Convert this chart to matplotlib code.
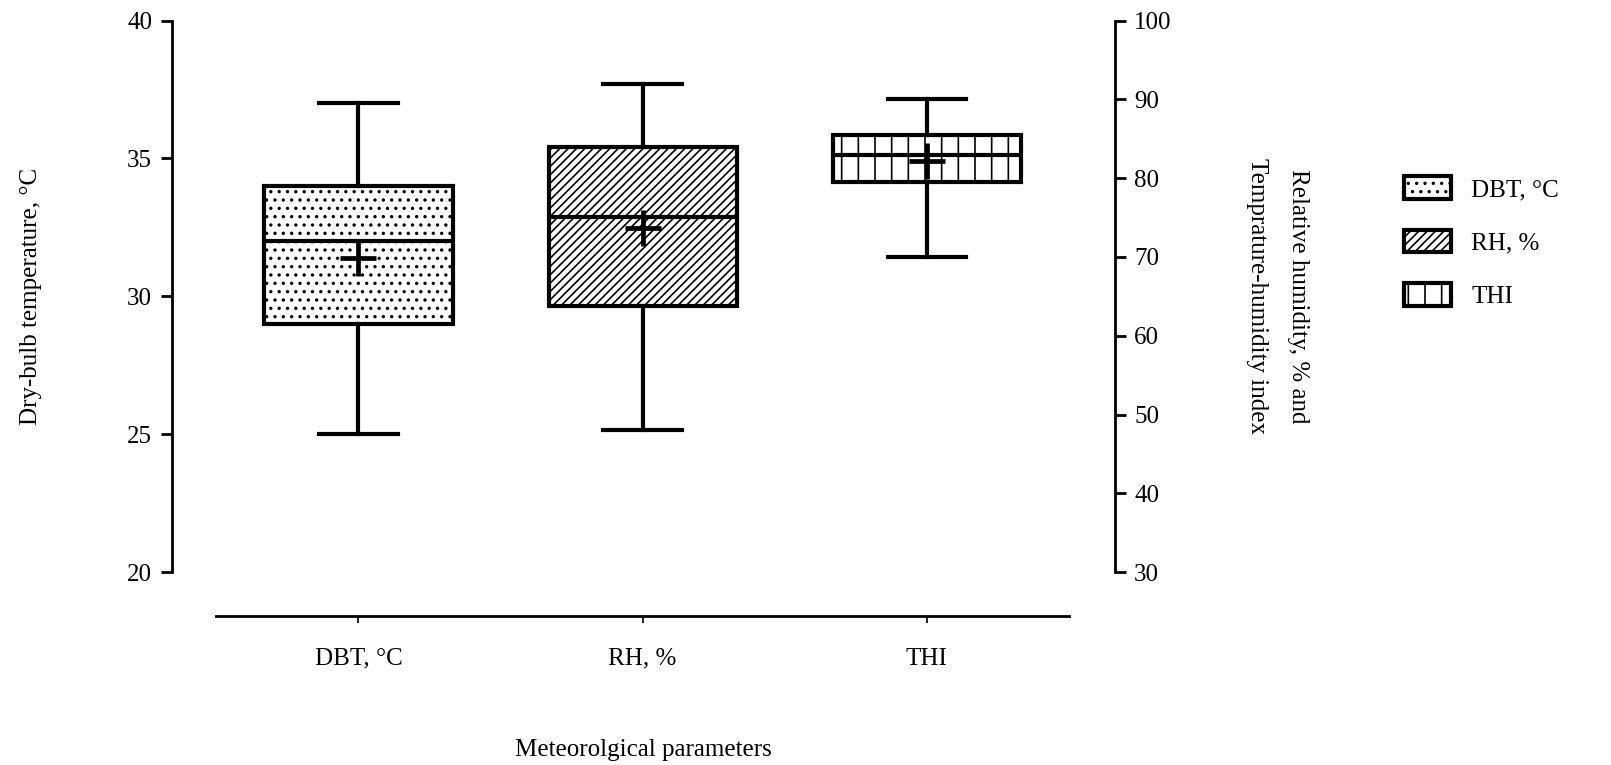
import matplotlib.pyplot as plt
from matplotlib.patches import Patch

plt.rcParams['font.family'] = ['Liberation Serif', 'DejaVu Serif']
plt.rcParams['hatch.linewidth'] = 1.2

# === Données ===
categories = ["DBT, °C", "RH, %", "THI"]
whislo = [25.0, 48.0, 70.0]
q1 = [29.0, 63.8, 79.5]
med = [32.0, 75.1, 82.9]
q3 = [34.0, 84.0, 85.5]
whishi = [37.0, 92.0, 90.0]
means = [31.4, 73.7, 82.2]
hatches = ['..', '////', '|']

stats = [dict(label=categories[i], whislo=whislo[i], q1=q1[i], med=med[i],
              q3=q3[i], whishi=whishi[i], mean=means[i], fliers=[])
         for i in range(3)]

fig = plt.figure(figsize=(16.11, 7.65), dpi=100)
ax = fig.add_axes([0.1065, 0.2519, 0.5854, 0.7213])
ax2 = ax.twinx()

lw = 3
common = dict(widths=0.662, capwidths=0.275, patch_artist=True, showmeans=True,
              whiskerprops=dict(color='black', linewidth=lw),
              capprops=dict(color='black', linewidth=lw),
              medianprops=dict(color='black', linewidth=lw),
              meanprops=dict(marker='+', markersize=26, markeredgewidth=3.4,
                             markeredgecolor='black'))

# DBT sur l'axe de gauche, RH et THI sur l'axe de droite
for i in range(3):
    target = ax if i == 0 else ax2
    target.bxp([stats[i]], positions=[i], manage_ticks=False,
               boxprops=dict(facecolor='white', edgecolor='black',
                             linewidth=lw, hatch=hatches[i]),
               **common)

ax.set_xlim(-0.658, 2.662)
ax.set_ylim(20, 40)
ax2.set_ylim(30, 100)
ax.set_yticks([20, 25, 30, 35, 40])
ax2.set_yticks([30, 40, 50, 60, 70, 80, 90, 100])
ax.set_xticks([0, 1, 2])
ax.set_xticklabels(categories)

# style Prism
for s in ['top', 'right']:
    ax.spines[s].set_visible(False)
for s in ['top', 'left', 'bottom']:
    ax2.spines[s].set_visible(False)
ax.spines['left'].set_linewidth(2)
ax.spines['left'].set_bounds(20, 40)
ax2.spines['right'].set_linewidth(2)
ax2.spines['right'].set_bounds(30, 100)
ax.spines['bottom'].set_position(('outward', 31.7))
ax.spines['bottom'].set_bounds(-0.5, 2.5)
ax.spines['bottom'].set_linewidth(2)

fs = 18
ax.tick_params(axis='y', length=8, width=2, labelsize=fs, pad=6)
ax2.tick_params(axis='y', length=8, width=2, labelsize=fs, pad=6)
ax.tick_params(axis='x', length=5, width=1.2, labelsize=fs, pad=17.5)

ax.set_ylabel("Dry-bulb temperature, °C", fontsize=fs, va='center')
ax.yaxis.set_label_coords(-0.149, 0.5)
ax2.set_ylabel("Relative humidity, % and\nTemprature-humidity index", fontsize=fs,
               rotation=-90, va='center', ha='center', linespacing=2.1)
ax2.yaxis.set_label_coords(1.1727, 0.5)
ax.set_xlabel("Meteorolgical parameters", fontsize=fs, va='center')
ax.xaxis.set_label_coords(0.5, -0.322)

handles = [Patch(facecolor='white', edgecolor='black', linewidth=lw, hatch=h)
           for h in hatches]
fig.legend(handles, categories, loc='upper left', bbox_to_anchor=(0.8635, 0.786),
           frameon=False, fontsize=fs, handlelength=1.9, handleheight=1.0,
           labelspacing=1.15, handletextpad=0.8, borderpad=0)

fig.savefig("out.png", dpi=100)
